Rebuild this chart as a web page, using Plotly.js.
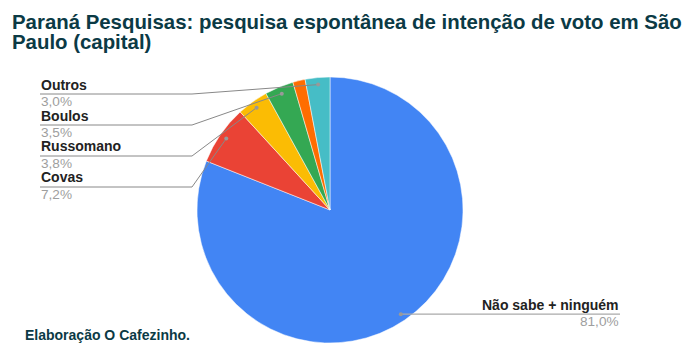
<!DOCTYPE html>
<html>
<head>
<meta charset="utf-8">
<script src="https://cdn.plot.ly/plotly-3.0.1.min.js"></script>
<style>html,body{margin:0;padding:0;background:#fff;}#chart{width:694px;height:354px;}</style>
</head>
<body>
<div id="chart"></div>
<script>
// ---- data ----
const categories = ["Não sabe + ninguém", "Covas", "Russomano", "Boulos", "Outros candidatos", "Outros"];
const values = [81.0, 7.2, 3.8, 3.5, 1.5, 3.0];
const valueLabels = ["81,0%", "7,2%", "3,8%", "3,5%", "1,5%", "3,0%"];
const showLabel = [true, true, true, true, false, true];
const colors = ["#4285F4", "#EA4335", "#FBBC04", "#34A853", "#FF6D01", "#46BDC6"];
const titleLines = ["Paraná Pesquisas: pesquisa espontânea de intenção de voto em São", "Paulo (capital)"];
const footer = "Elaboração O Cafezinho.";

// ---- layout geometry (pixels) ----
const W = 694, H = 354;
const cx = 330, cy = 210, R = 133;
const px = x => x / W, py = y => 1 - y / H;

const total = values.reduce((a, b) => a + b, 0);
let cum = 0;
const mids = values.map(v => { const m = (cum + v / 2) / total; cum += v; return m; });

const shapes = [], annotations = [];
const FONT = "Liberation Sans, Arial, sans-serif";
const labelFont = {family: FONT, size: 14, color: "#222222"};
const valFont = {family: FONT, size: 13.6, color: "#9e9e9e"};

// left-side label rows (y of underline), from top
const leftRows = [94, 125, 156, 187];
const leftIdx = [];
for (let i = 0; i < values.length; i++) if (showLabel[i] && mids[i] > 0.5) leftIdx.push(i);
leftIdx.sort((a, b) => mids[b] - mids[a]);

for (let i = 0; i < values.length; i++) {
  if (!showLabel[i]) continue;
  const th = mids[i] * 2 * Math.PI;
  const r = R * 0.947;
  const dx = cx + r * Math.sin(th), dy = cy - r * Math.cos(th);
  let lineY, anchor, tx;
  if (mids[i] > 0.5) {
    lineY = leftRows[leftIdx.indexOf(i)];
    anchor = "left"; tx = 40;
    shapes.push({type: "line", xref: "paper", yref: "paper", x0: px(40), y0: py(lineY), x1: px(192), y1: py(lineY), line: {color: "#888", width: 1}});
    shapes.push({type: "line", xref: "paper", yref: "paper", x0: px(192), y0: py(lineY), x1: px(dx), y1: py(dy), line: {color: "#888", width: 1}});
  } else {
    lineY = dy;
    anchor = "right"; tx = 620;
    shapes.push({type: "line", xref: "paper", yref: "paper", x0: px(dx), y0: py(lineY), x1: px(620), y1: py(lineY), line: {color: "#aaa", width: 1.3}});
  }
  shapes.push({type: "circle", xref: "paper", yref: "paper", x0: px(dx - 2), x1: px(dx + 2), y0: py(dy + 2), y1: py(dy - 2), fillcolor: "#999", line: {width: 0}});
  annotations.push({xref: "paper", yref: "paper", x: px(tx), y: py(lineY - 9.5), xanchor: anchor, yanchor: "middle", text: "<b>" + categories[i] + "</b>", showarrow: false, font: labelFont, borderpad: 0});
  annotations.push({xref: "paper", yref: "paper", x: px(tx), y: py(lineY + 7.5), xanchor: anchor, yanchor: "middle", text: valueLabels[i], showarrow: false, font: valFont, borderpad: 0});
}

annotations.push({xref: "paper", yref: "paper", x: px(24), y: py(335), xanchor: "left", yanchor: "middle", text: "<b>" + footer + "</b>", showarrow: false, font: {family: FONT, size: 14, color: "#0b3a45"}, borderpad: 0});

titleLines.forEach((t, k) => {
  annotations.push({xref: "paper", yref: "paper", x: px(11), y: py(21.5 + 20.5 * k), xanchor: "left", yanchor: "middle", text: "<b>" + t + "</b>", showarrow: false, font: {family: FONT, size: 20.4, color: "#0b3a45"}, borderpad: 0});
});

const trace = {
  type: "pie",
  labels: categories,
  values: values,
  sort: false,
  direction: "clockwise",
  rotation: 0,
  textinfo: "none",
  hoverinfo: "label+percent",
  marker: {colors: colors, line: {color: "#ffffff", width: 0.5}},
  domain: {x: [px(cx - R), px(cx + R)], y: [py(cy + R), py(cy - R)]},
  showlegend: false
};

const layout = {
  width: W, height: H,
  margin: {l: 0, r: 0, t: 0, b: 0},
  paper_bgcolor: "#fff",
  shapes: shapes,
  annotations: annotations,
  showlegend: false
};

Plotly.newPlot("chart", [trace], layout, {displayModeBar: false, staticPlot: true});
</script>
</body>
</html>
